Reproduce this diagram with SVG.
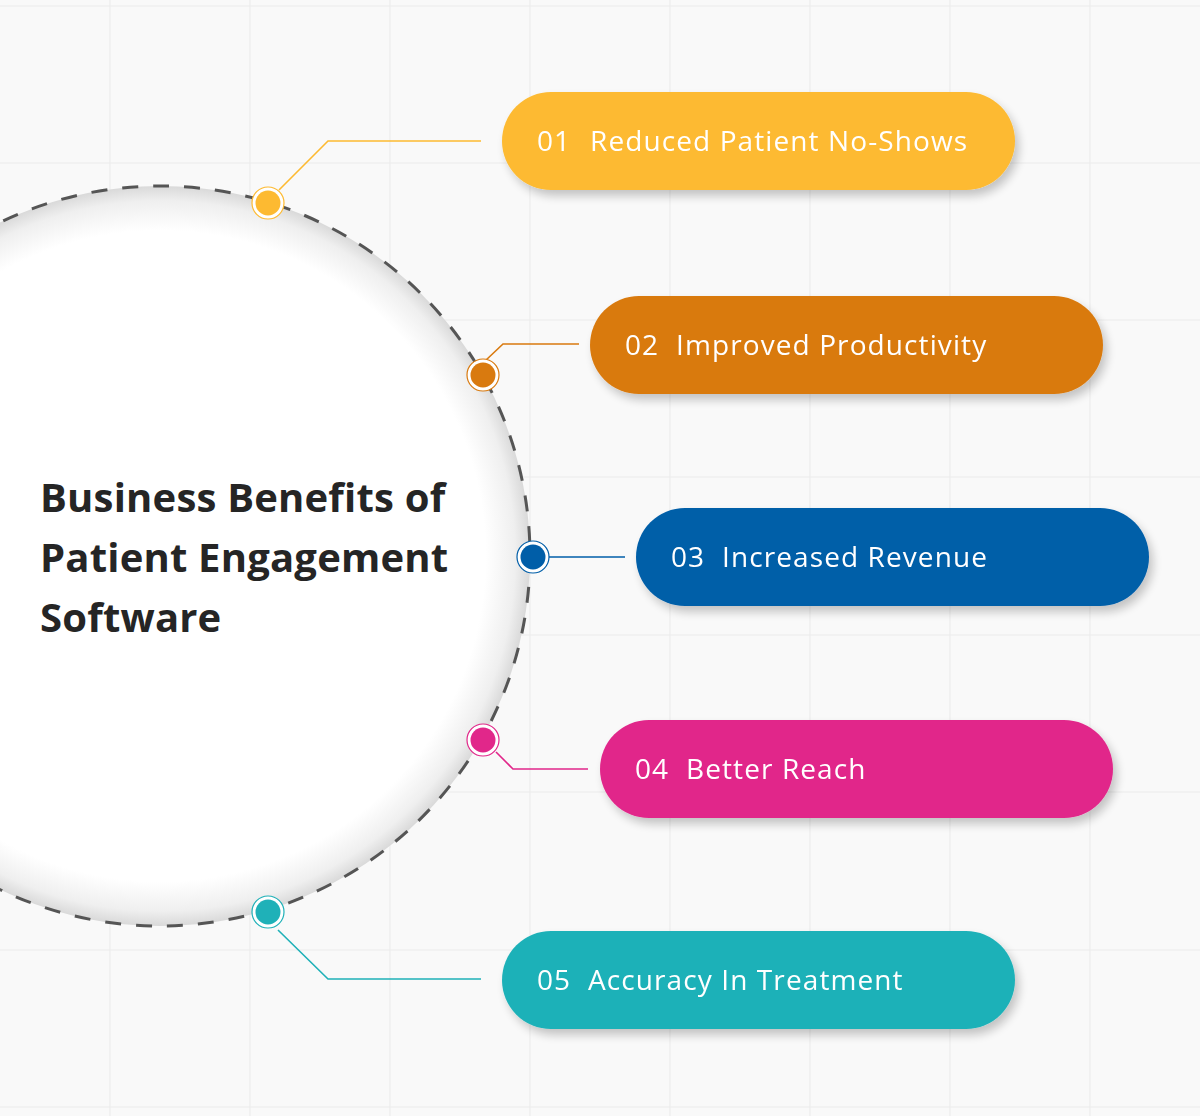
<svg xmlns="http://www.w3.org/2000/svg" width="1200" height="1116" viewBox="0 0 1200 1116">
<defs>
<style>
.grid line{stroke:#ececec;stroke-width:1.2}
.conn{fill:none;stroke-width:1.6}
.pill-text{font-family:"Open Sans","Noto Sans","Liberation Sans",sans-serif;font-size:28px;fill:#ffffff;font-weight:500;letter-spacing:1.1px}
.title{font-family:"Open Sans","Noto Sans","Liberation Sans",sans-serif;font-size:40px;font-weight:700;fill:#252525;letter-spacing:0.2px}
</style>
<radialGradient id="circGrad" cx="160" cy="556" r="370" gradientUnits="userSpaceOnUse">
<stop offset="0" stop-color="#ffffff"/>
<stop offset="0.88" stop-color="#ffffff"/>
<stop offset="0.96" stop-color="#efefef"/>
<stop offset="1" stop-color="#d9d9d9"/>
</radialGradient>
<filter id="shadow" x="-10%" y="-30%" width="125%" height="170%">
<feGaussianBlur in="SourceAlpha" stdDeviation="5"/>
<feOffset dx="4" dy="6" result="b"/>
<feComponentTransfer><feFuncA type="linear" slope="0.22"/></feComponentTransfer>
<feMerge><feMergeNode/><feMergeNode in="SourceGraphic"/></feMerge>
</filter>
</defs>
<rect width="1200" height="1116" fill="#f9f9f9"/>
<g class="grid">
<line x1="110" y1="0" x2="110" y2="1116"/><line x1="250" y1="0" x2="250" y2="1116"/><line x1="390" y1="0" x2="390" y2="1116"/><line x1="530" y1="0" x2="530" y2="1116"/><line x1="670" y1="0" x2="670" y2="1116"/><line x1="810" y1="0" x2="810" y2="1116"/><line x1="950" y1="0" x2="950" y2="1116"/><line x1="1090" y1="0" x2="1090" y2="1116"/>
<line x1="0" y1="6" x2="1200" y2="6"/><line x1="0" y1="163" x2="1200" y2="163"/><line x1="0" y1="320" x2="1200" y2="320"/><line x1="0" y1="477" x2="1200" y2="477"/><line x1="0" y1="635" x2="1200" y2="635"/><line x1="0" y1="792" x2="1200" y2="792"/><line x1="0" y1="950" x2="1200" y2="950"/><line x1="0" y1="1107" x2="1200" y2="1107"/>
</g>
<g id="center">
<circle cx="160" cy="556" r="370" fill="url(#circGrad)" stroke="#555555" stroke-width="3" stroke-dasharray="16 15"/>
<text class="title"><tspan x="40" y="512">Business Benefits of</tspan><tspan x="40" y="572">Patient Engagement</tspan><tspan x="40" y="632">Software</tspan></text>
</g>
<g id="connectors">
<polyline class="conn" stroke="#FDBA31" points="279,190 328,141 481,141"/>
<polyline class="conn" stroke="#D97A0F" points="485,361 503,344 579,344"/>
<polyline class="conn" stroke="#005EA8" points="549,557 625,557"/>
<polyline class="conn" stroke="#E1278A" points="496,752 513,769 588,769"/>
<polyline class="conn" stroke="#1FB1B8" points="278,930 328,979 481,979"/>
</g>
<g id="dot1"><circle cx="268" cy="203" r="16" fill="#ffffff" stroke="#FDBA31" stroke-width="1.2"/><circle cx="268" cy="203" r="12.5" fill="#FDBA31"/></g>
<g id="dot2"><circle cx="483" cy="375" r="16" fill="#ffffff" stroke="#D97A0F" stroke-width="1.2"/><circle cx="483" cy="375" r="12.5" fill="#D97A0F"/></g>
<g id="dot3"><circle cx="533" cy="557" r="16" fill="#ffffff" stroke="#005EA8" stroke-width="1.2"/><circle cx="533" cy="557" r="12.5" fill="#005EA8"/></g>
<g id="dot4"><circle cx="483" cy="740" r="16" fill="#ffffff" stroke="#E1278A" stroke-width="1.2"/><circle cx="483" cy="740" r="12.5" fill="#E1278A"/></g>
<g id="dot5"><circle cx="268" cy="912" r="16" fill="#ffffff" stroke="#1FB1B8" stroke-width="1.2"/><circle cx="268" cy="912" r="12.5" fill="#1FB1B8"/></g>
<g id="pill1" filter="url(#shadow)"><rect x="502" y="92" width="513" height="98" rx="49" fill="#FDBA31"/><text class="pill-text" y="151"><tspan x="537">01</tspan><tspan x="590">Reduced Patient No-Shows</tspan></text></g>
<g id="pill2" filter="url(#shadow)"><rect x="590" y="296" width="513" height="98" rx="49" fill="#D97A0F"/><text class="pill-text" x="625" y="355" xml:space="preserve">02  Improved Productivity</text></g>
<g id="pill3" filter="url(#shadow)"><rect x="636" y="508" width="513" height="98" rx="49" fill="#005EA8"/><text class="pill-text" x="671" y="567" xml:space="preserve">03  Increased Revenue</text></g>
<g id="pill4" filter="url(#shadow)"><rect x="600" y="720" width="513" height="98" rx="49" fill="#E1278A"/><text class="pill-text" x="635" y="779" xml:space="preserve">04  Better Reach</text></g>
<g id="pill5" filter="url(#shadow)"><rect x="502" y="931" width="513" height="98" rx="49" fill="#1FB1B8"/><text class="pill-text" x="537" y="990" xml:space="preserve">05  Accuracy In Treatment</text></g>
</svg>
